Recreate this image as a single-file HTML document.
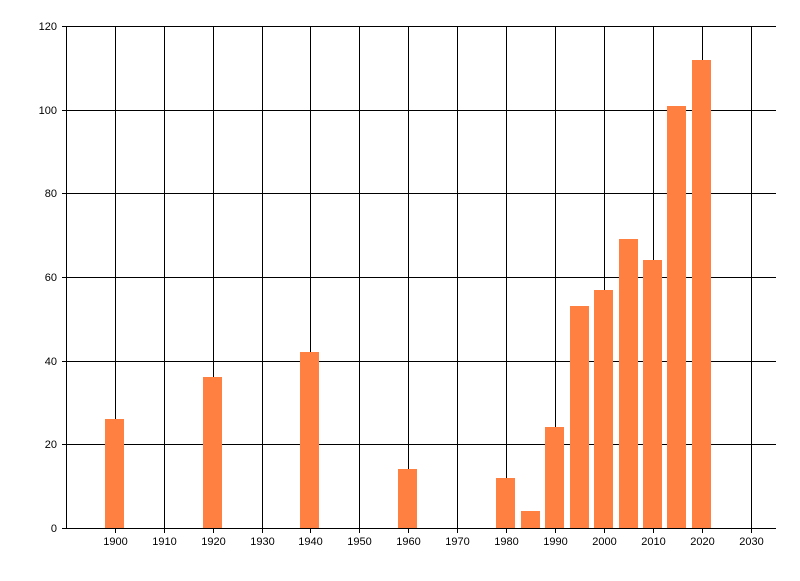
<!DOCTYPE html>
<html><head><style>html,body{margin:0;padding:0;background:#fff}</style></head>
<body>
<svg width="800" height="576" xmlns="http://www.w3.org/2000/svg" font-family="Liberation Sans, sans-serif" font-size="11">
<rect width="800" height="576" fill="#fff"/>
<g stroke="#000" stroke-width="1" shape-rendering="crispEdges">
<line x1="62" y1="26.5" x2="776" y2="26.5"/>
<line x1="62" y1="110.5" x2="776" y2="110.5"/>
<line x1="62" y1="193.5" x2="776" y2="193.5"/>
<line x1="62" y1="277.5" x2="776" y2="277.5"/>
<line x1="62" y1="361.5" x2="776" y2="361.5"/>
<line x1="62" y1="444.5" x2="776" y2="444.5"/>
<line x1="62" y1="528.5" x2="776" y2="528.5"/>
<line x1="66.5" y1="26" x2="66.5" y2="529"/>
<line x1="115.5" y1="26" x2="115.5" y2="533"/>
<line x1="164.5" y1="26" x2="164.5" y2="533"/>
<line x1="213.5" y1="26" x2="213.5" y2="533"/>
<line x1="262.5" y1="26" x2="262.5" y2="533"/>
<line x1="310.5" y1="26" x2="310.5" y2="533"/>
<line x1="359.5" y1="26" x2="359.5" y2="533"/>
<line x1="408.5" y1="26" x2="408.5" y2="533"/>
<line x1="457.5" y1="26" x2="457.5" y2="533"/>
<line x1="506.5" y1="26" x2="506.5" y2="533"/>
<line x1="555.5" y1="26" x2="555.5" y2="533"/>
<line x1="604.5" y1="26" x2="604.5" y2="533"/>
<line x1="653.5" y1="26" x2="653.5" y2="533"/>
<line x1="702.5" y1="26" x2="702.5" y2="533"/>
<line x1="751.5" y1="26" x2="751.5" y2="533"/>
</g>
<g fill="#FF8040" shape-rendering="crispEdges">
<rect x="105" y="419" width="19" height="109"/>
<rect x="203" y="377" width="19" height="151"/>
<rect x="300" y="352" width="19" height="176"/>
<rect x="398" y="469" width="19" height="59"/>
<rect x="496" y="478" width="19" height="50"/>
<rect x="521" y="511" width="19" height="17"/>
<rect x="545" y="427" width="19" height="101"/>
<rect x="570" y="306" width="19" height="222"/>
<rect x="594" y="290" width="19" height="238"/>
<rect x="619" y="239" width="19" height="289"/>
<rect x="643" y="260" width="19" height="268"/>
<rect x="667" y="106" width="19" height="422"/>
<rect x="692" y="60" width="19" height="468"/>
</g>
<g fill="#000" text-anchor="end">
<text x="57" y="30">120</text>
<text x="57" y="114">100</text>
<text x="57" y="197">80</text>
<text x="57" y="281">60</text>
<text x="57" y="365">40</text>
<text x="57" y="448">20</text>
<text x="57" y="532">0</text>
</g>
<g fill="#000" text-anchor="middle">
<text x="115.5" y="545">1900</text>
<text x="164.5" y="545">1910</text>
<text x="213.5" y="545">1920</text>
<text x="262.5" y="545">1930</text>
<text x="310.5" y="545">1940</text>
<text x="359.5" y="545">1950</text>
<text x="408.5" y="545">1960</text>
<text x="457.5" y="545">1970</text>
<text x="506.5" y="545">1980</text>
<text x="555.5" y="545">1990</text>
<text x="604.5" y="545">2000</text>
<text x="653.5" y="545">2010</text>
<text x="702.5" y="545">2020</text>
<text x="751.5" y="545">2030</text>
</g>
</svg>
</body></html>
